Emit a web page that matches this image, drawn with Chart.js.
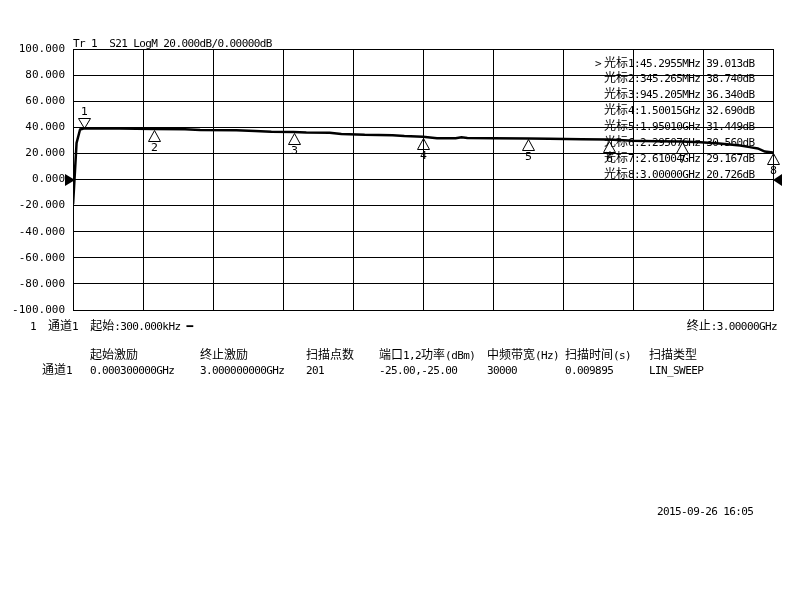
<!DOCTYPE html>
<html>
<head>
<meta charset="utf-8">
<script src="https://cdn.jsdelivr.net/npm/chart.js@4/dist/chart.umd.min.js"></script>
<style>
  html, body { margin: 0; padding: 0; background: #fff; }
  #wrap { position: relative; width: 800px; height: 600px; overflow: hidden; background: #fff; }
  #c { position: absolute; left: 0; top: 0; }
  .t { position: absolute; white-space: pre; font: 11px "DejaVu Sans Mono", "Noto Sans CJK SC", monospace; letter-spacing: -0.6px; line-height: 14px; color: #000; }
  .t .k { font: 12px "Noto Sans CJK SC", sans-serif; letter-spacing: 0; line-height: 0; }
</style>
</head>
<body>
<div id="wrap">
  <canvas id="c" width="800" height="600"></canvas>
</div>
<script>
// ---------- data ----------
const traceFreqMHz = [0.3, 15.3, 30.3, 45.3, 100, 200, 345.3, 480, 545, 700, 780, 850, 945.2, 1000, 1100, 1150, 1250, 1370, 1420, 1500.2, 1560, 1640, 1665, 1690, 1800, 1950.1, 2040, 2180, 2295.1, 2400, 2500, 2610, 2690, 2770, 2860, 2900, 2935, 2965, 3000];
const traceDb      = [-19, 28, 38.3, 39.01, 39.1, 39.0, 38.74, 38.6, 38.0, 37.8, 37.2, 36.6, 36.34, 36.0, 35.8, 34.8, 34.2, 34.0, 33.3, 32.69, 31.7, 31.6, 32.3, 31.8, 31.7, 31.45, 31.2, 30.8, 30.56, 29.6, 29.4, 29.17, 28.6, 27.6, 26.0, 24.8, 23.8, 21.4, 20.73];

const markerNames    = ["1", "2", "3", "4", "5", "6", "7", "8"];
const markerFreqMHz  = [45.2955, 345.2655, 945.205, 1500.15, 1950.10, 2295.07, 2610.04, 3000];
const markerFreqText = ["45.2955MHz", "345.265MHz", "945.205MHz", "1.50015GHz", "1.95010GHz", "2.29507GHz", "2.61004GHz", "3.00000GHz"];
const markerDb       = [39.013, 38.740, 36.340, 32.690, 31.449, 30.560, 29.167, 20.726];

const yTicks = [-100, -80, -60, -40, -20, 0, 20, 40, 60, 80, 100];
const refLevel = 0;

const titleText = "Tr 1  S21 LogM 20.000dB/0.00000dB";
const tableHeaders = ["起始激励", "终止激励", "扫描点数", "端口1,2功率(dBm)", "中频带宽(Hz)", "扫描时间(s)", "扫描类型"];
const tableRowName = "通道1";
const tableValues  = ["0.000300000GHz", "3.000000000GHz", "201", "-25.00,-25.00", "30000", "0.009895", "LIN_SWEEP"];
const dateText = "2015-09-26 16:05";

// ---------- chart ----------
const points = traceFreqMHz.map((f, i) => ({ x: f, y: traceDb[i] }));

const markerPlugin = {
  id: 'markers',
  afterDatasetsDraw(chart) {
    const ctx = chart.ctx, xs = chart.scales.x, ys = chart.scales.y;
    ctx.save();
    ctx.strokeStyle = '#000';
    ctx.fillStyle = '#000';
    ctx.lineWidth = 1;
    ctx.font = '11px "DejaVu Sans"';
    ctx.textAlign = 'center';
    ctx.textBaseline = 'middle';
    markerFreqMHz.forEach((f, i) => {
      const px = Math.round(xs.getPixelForValue(f)) + 0.5;
      const py = Math.round(ys.getPixelForValue(markerDb[i])) + 0.5;
      ctx.beginPath();
      if (i === 0) {
        ctx.moveTo(px, py - 1);
        ctx.lineTo(px - 6, py - 11);
        ctx.lineTo(px + 6, py - 11);
        ctx.closePath();
        ctx.stroke();
        ctx.fillText(markerNames[i], px, py - 17);
      } else {
        ctx.moveTo(px, py + 1);
        ctx.lineTo(px - 6, py + 12);
        ctx.lineTo(px + 6, py + 12);
        ctx.closePath();
        ctx.stroke();
        ctx.fillText(markerNames[i], px, py + 19);
      }
    });
    // reference level arrows
    const ry = Math.round(ys.getPixelForValue(refLevel));
    const l = chart.chartArea.left, r = chart.chartArea.right;
    ctx.beginPath();
    ctx.moveTo(l - 8, ry - 6); ctx.lineTo(l + 2, ry); ctx.lineTo(l - 8, ry + 6); ctx.closePath(); ctx.fill();
    ctx.beginPath();
    ctx.moveTo(r + 9, ry - 6); ctx.lineTo(r, ry); ctx.lineTo(r + 9, ry + 6); ctx.closePath(); ctx.fill();
    ctx.restore();
  }
};

new Chart(document.getElementById('c'), {
  type: 'line',
  data: {
    datasets: [{
      data: points,
      borderColor: '#000',
      borderWidth: 2.5,
      pointRadius: 0,
      tension: 0,
      fill: false
    }]
  },
  options: {
    responsive: false,
    animation: false,
    events: [],
    layout: { padding: { left: 0, top: 49, right: 27, bottom: 290 } },
    plugins: { legend: { display: false }, tooltip: { enabled: false } },
    scales: {
      x: {
        type: 'linear',
        min: 0,
        max: 3000,
        ticks: { display: false, stepSize: 300 },
        grid: { color: '#000', lineWidth: 1, drawTicks: false },
        border: { color: '#000', width: 1 },
        afterFit(s) { s.height = 0; }
      },
      y: {
        type: 'linear',
        min: -100,
        max: 100,
        afterBuildTicks(s) { s.ticks = yTicks.map(v => ({ value: v })); },
        ticks: {
          color: '#000',
          font: { family: 'DejaVu Sans Mono', size: 11 },
          padding: 8,
          callback: v => v.toFixed(3)
        },
        grid: { color: '#000', lineWidth: 1, drawTicks: false },
        border: { color: '#000', width: 1 },
        afterFit(s) { s.width = 73; }
      }
    }
  },
  plugins: [markerPlugin, {
    id: 'rightBorder',
    afterDraw(chart) {
      const { ctx, chartArea: a } = chart;
      ctx.save();
      ctx.strokeStyle = '#000';
      ctx.lineWidth = 1;
      ctx.strokeRect(Math.round(a.left) + 0.5, Math.round(a.top) + 0.5, Math.round(a.right - a.left), Math.round(a.bottom - a.top));
      ctx.restore();
    }
  }]
});

// ---------- text ----------
const wrap = document.getElementById('wrap');
function esc(s) { return s.replace(/&/g, '&amp;').replace(/</g, '&lt;').replace(/>/g, '&gt;'); }
function markup(s) {
  // wrap CJK runs in a span with the CJK font
  return esc(s).replace(/([\u3000-\u9fff\uff00-\uffef]+)/g, '<span class="k">$1</span>');
}
function put(x, y, text, align) {
  const d = document.createElement('div');
  d.className = 't';
  d.innerHTML = markup(text);
  d.style.top = (y - 5.5) + 'px';
  if (align === 'right') { d.style.right = (800 - x) + 'px'; }
  else { d.style.left = x + 'px'; }
  wrap.appendChild(d);
  return d;
}

put(73, 42, titleText);

// marker list
markerNames.forEach((n, i) => {
  put(604, 62 + i * 15.9, "光标" + n + ":" + markerFreqText[i] + " " + markerDb[i].toFixed(3) + "dB");
});
put(595, 62, ">");

// bottom status line
put(30, 325, "1  通道1  起始:300.000kHz ━");
put(777, 325, "终止:3.00000GHz", 'right');

// table
const colX = [90, 200, 306, 379, 487, 565, 649];
tableHeaders.forEach((h, i) => put(colX[i], 354, h));
put(42, 369, tableRowName);
tableValues.forEach((v, i) => put(colX[i], 369, v));

put(657, 510, dateText);
</script>
</body>
</html>
